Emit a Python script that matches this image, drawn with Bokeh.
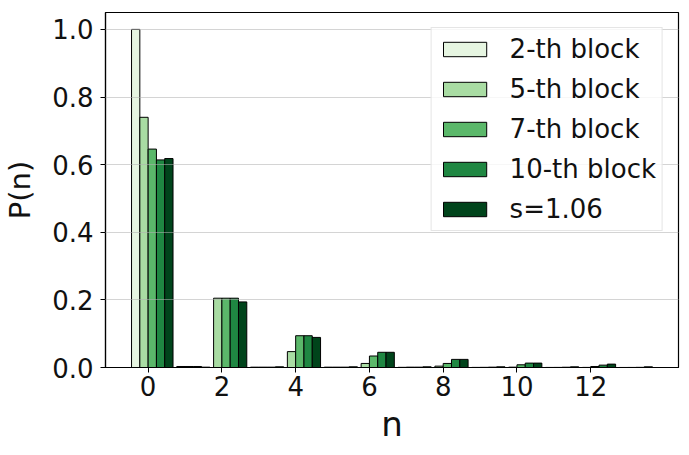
from bokeh.plotting import figure
from bokeh.models import FixedTicker, Range1d, CustomJSTickFormatter
from bokeh.embed import file_html
from bokeh.resources import INLINE

# ---- data ----
n_values = list(range(14))
series_labels = ["2-th block", "5-th block", "7-th block", "10-th block", "s=1.06"]
block2 = [1.0, 0.0, 0.0, 0.0, 0.0, 0.0, 0.0, 0.0, 0.0, 0.0, 0.0, 0.0, 0.0, 0.0]
block5 = [0.740, 0.003, 0.205, 0.001, 0.047, 0.001, 0.012, 0.0005, 0.004, 0.0003, 0.001, 0.0002, 0.0003, 0.0001]
block7 = [0.646, 0.003, 0.205, 0.001, 0.094, 0.001, 0.034, 0.001, 0.012, 0.0005, 0.008, 0.0003, 0.003, 0.0002]
block10 = [0.614, 0.003, 0.205, 0.001, 0.094, 0.001, 0.045, 0.001, 0.024, 0.001, 0.013, 0.0008, 0.007, 0.0005]
s106 = [0.618, 0.001, 0.194, 0.002, 0.089, 0.002, 0.045, 0.002, 0.024, 0.002, 0.013, 0.002, 0.010, 0.002]
x_ticks = [0, 2, 4, 6, 8, 10, 12]
y_ticks = [0.0, 0.2, 0.4, 0.6, 0.8, 1.0]

series = [block2, block5, block7, block10, s106]
colors = ["#e6f5e1", "#a9dca3", "#5bb86a", "#1f8742", "#00441b"]
bar_w = 0.225

p = figure(width=681, height=447, output_backend="svg", toolbar_location=None,
           x_range=Range1d(-1.156, 14.38), y_range=Range1d(0, 1.05),
           min_border_left=104, min_border_right=3, min_border_top=12, min_border_bottom=80)

for i, (vals, lab, col) in enumerate(zip(series, series_labels, colors)):
    xs = [n + (i - 1.5) * bar_w for n in n_values]
    p.vbar(x=xs, top=vals, width=bar_w, bottom=0, fill_color=col, line_color="black",
           line_width=1, legend_label=lab)

font = "DejaVu Sans"
p.xaxis.ticker = FixedTicker(ticks=x_ticks)
p.yaxis.ticker = FixedTicker(ticks=y_ticks)
p.yaxis.formatter = CustomJSTickFormatter(code="return tick.toFixed(1);")

for ax in (p.xaxis[0], p.yaxis[0]):
    ax.major_label_text_font = font
    ax.major_label_text_font_size = "26px"
    ax.major_label_text_color = "#111111"
    ax.axis_label_text_font = font
    ax.axis_label_text_font_style = "normal"
    ax.axis_label_text_color = "#111111"
    ax.minor_tick_line_color = None
    ax.major_tick_in = 0
    ax.major_tick_out = 5
    ax.major_tick_line_color = "black"
    ax.axis_line_color = "black"
    ax.axis_line_width = 1.2

p.xaxis.axis_label = "n"
p.xaxis.axis_label_text_font_size = "34px"
p.xaxis.axis_label_standoff = 5
p.xaxis.major_label_standoff = 3
p.yaxis.axis_label = "P(n)"
p.yaxis.axis_label_text_font_size = "29px"
p.yaxis.axis_label_standoff = 12
p.yaxis.major_label_standoff = 7

p.xgrid.grid_line_color = None
p.ygrid.grid_line_color = "#b0b0b0"
p.ygrid.grid_line_alpha = 0.55
p.ygrid.grid_line_width = 1
p.ygrid.level = "annotation"

p.outline_line_color = "black"
p.outline_line_width = 1.2
p.background_fill_color = "white"
p.border_fill_color = "white"

lg = p.legend[0]
lg.location = "top_right"
lg.margin = 15
lg.padding = 6
lg.spacing = 10
lg.glyph_width = 54
lg.glyph_height = 18
lg.label_height = 30
lg.label_standoff = 18
lg.label_text_font = font
lg.label_text_font_size = "26px"
lg.label_text_color = "#111111"
lg.border_line_color = "#cccccc"
lg.border_line_width = 1
lg.background_fill_alpha = 0.8

open("out.html", "w").write(file_html(p, INLINE))
